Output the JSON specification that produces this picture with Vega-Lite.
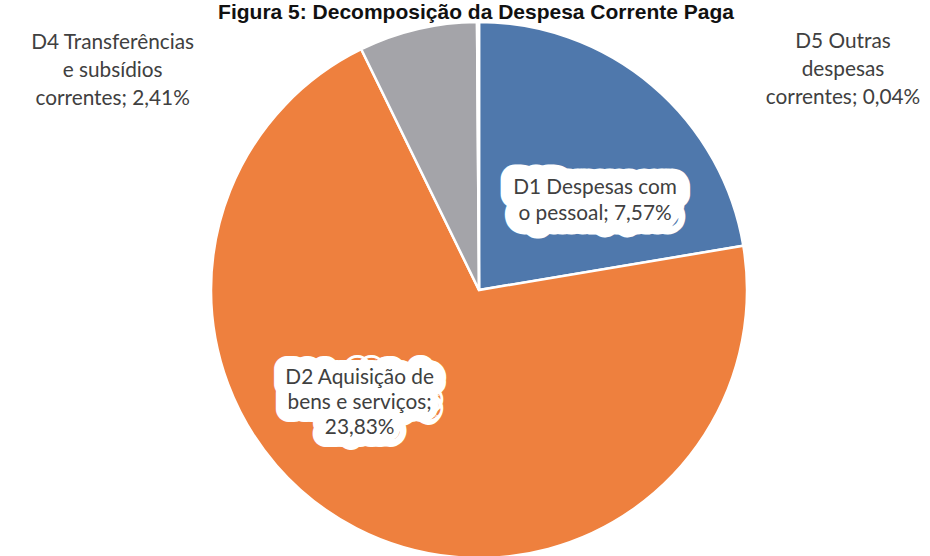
{
  "$schema": "https://vega.github.io/schema/vega-lite/v6.json",
  "width": 902,
  "height": 532,
  "autosize": {"type": "none"},
  "padding": {"left": 28, "top": 24, "right": 0, "bottom": 0},
  "background": "white",
  "view": {"stroke": null},
  "title": {
    "text": "Figura 5: Decomposição da Despesa Corrente Paga",
    "font": "Liberation Sans",
    "fontWeight": "bold",
    "fontSize": 21,
    "color": "#111111",
    "baseline": "alphabetic",
    "frame": "group",
    "anchor": "middle",
    "offset": 3,
    "dx": -3,
    "dy": 26
  },
  "data": {
    "values": [
      {"cat": "D1", "value": 7.57, "label": "D1 Despesas com|o pessoal; 7,57%"},
      {"cat": "D2", "value": 23.83, "label": "D2 Aquisição de|bens e serviços;|23,83%"},
      {"cat": "D4", "value": 2.41, "label": "D4 Transferências|e subsídios|correntes; 2,41%"},
      {"cat": "D5", "value": 0.04, "label": "D5 Outras|despesas|correntes; 0,04%"}
    ]
  },
  "encoding": {
    "theta": {"field": "value", "type": "quantitative", "stack": true},
    "order": {"field": "cat", "type": "nominal", "sort": "ascending"}
  },
  "layer": [
    {
      "mark": {"type": "arc", "outerRadius": 268, "stroke": "white", "strokeWidth": 2.5},
      "encoding": {
        "color": {
          "field": "cat",
          "type": "nominal",
          "legend": null,
          "scale": {"domain": ["D1", "D2", "D4", "D5"], "range": ["#4f78ac", "#ee803e", "#a4a4a9", "#ffc000"]}
        }
      }
    },
    {
      "mark": {"type": "text", "radius": 144, "dx": 23, "dy": 8, "lineBreak": "|", "font": "Lato", "fontSize": 20.8, "lineHeight": 26, "color": "white", "stroke": "white", "strokeWidth": 29, "strokeJoin": "round", "align": "center", "baseline": "middle"},
      "encoding": {
        "detail": {"field": "cat"},
        "text": {"condition": {"test": "datum.cat === 'D1'", "field": "label", "type": "nominal"}, "value": ""}
      }
    },
    {
      "mark": {"type": "text", "radius": 144, "dx": 23, "dy": 8, "lineBreak": "|", "font": "Lato", "fontSize": 20.8, "lineHeight": 26, "color": "white", "stroke": "white", "strokeWidth": 12, "strokeJoin": "round", "align": "center", "baseline": "middle"},
      "encoding": {
        "detail": {"field": "cat"},
        "text": {"condition": {"test": "datum.cat === 'D1'", "field": "label", "type": "nominal"}, "value": ""}
      }
    },
    {
      "mark": {"type": "text", "radius": 156, "dx": -48, "dy": -51, "lineBreak": "|", "font": "Lato", "fontSize": 20.8, "lineHeight": 25, "color": "white", "stroke": "white", "strokeWidth": 26, "strokeJoin": "round", "align": "center", "baseline": "middle"},
      "encoding": {
        "detail": {"field": "cat"},
        "text": {"condition": {"test": "datum.cat === 'D2'", "field": "label", "type": "nominal"}, "value": ""}
      }
    },
    {
      "mark": {"type": "text", "radius": 156, "dx": -48, "dy": -51, "lineBreak": "|", "font": "Lato", "fontSize": 20.8, "lineHeight": 25, "color": "white", "stroke": "white", "strokeWidth": 12, "strokeJoin": "round", "align": "center", "baseline": "middle"},
      "encoding": {
        "detail": {"field": "cat"},
        "text": {"condition": {"test": "datum.cat === 'D2'", "field": "label", "type": "nominal"}, "value": ""}
      }
    },
    {
      "mark": {"type": "text", "radius": 144, "dx": 23, "dy": 8, "lineBreak": "|", "font": "Lato", "fontSize": 20.8, "lineHeight": 26, "color": "#404040", "align": "center", "baseline": "middle"},
      "encoding": {
        "detail": {"field": "cat"},
        "text": {"condition": {"test": "datum.cat === 'D1'", "field": "label", "type": "nominal"}, "value": ""}
      }
    },
    {
      "mark": {"type": "text", "radius": 156, "dx": -48, "dy": -51, "lineBreak": "|", "font": "Lato", "fontSize": 20.8, "lineHeight": 25, "color": "#404040", "align": "center", "baseline": "middle"},
      "encoding": {
        "detail": {"field": "cat"},
        "text": {"condition": {"test": "datum.cat === 'D2'", "field": "label", "type": "nominal"}, "value": ""}
      }
    },
    {
      "mark": {"type": "text", "radius": 268, "dx": -305, "dy": 14, "lineBreak": "|", "font": "Lato", "fontSize": 20.8, "lineHeight": 28, "color": "#404040", "align": "center", "baseline": "middle"},
      "encoding": {
        "detail": {"field": "cat"},
        "text": {"condition": {"test": "datum.cat === 'D4'", "field": "label", "type": "nominal"}, "value": ""}
      }
    },
    {
      "mark": {"type": "text", "radius": 268, "dx": 365, "dy": 20, "lineBreak": "|", "font": "Lato", "fontSize": 20.8, "lineHeight": 28, "color": "#404040", "align": "center", "baseline": "middle"},
      "encoding": {
        "detail": {"field": "cat"},
        "text": {"condition": {"test": "datum.cat === 'D5'", "field": "label", "type": "nominal"}, "value": ""}
      }
    }
  ]
}
